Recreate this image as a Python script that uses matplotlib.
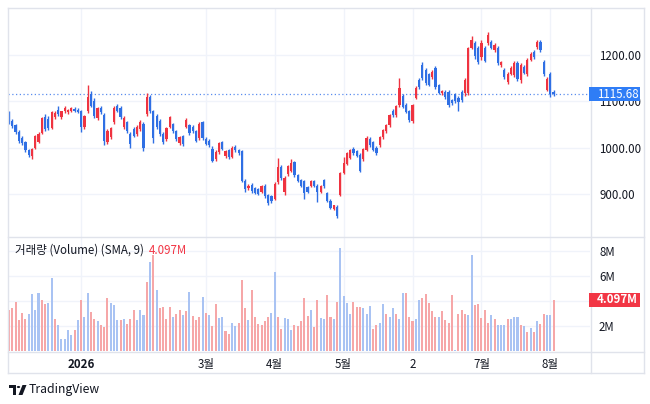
import matplotlib
matplotlib.use("Agg")
import matplotlib.pyplot as plt
import numpy as np
from matplotlib.patches import Rectangle, Polygon, Circle
from matplotlib.lines import Line2D

plt.rcParams['font.family'] = ['Noto Sans CJK KR', 'DejaVu Sans']

# ---------------- data ----------------
opens = [1072,1058,1048,1034,1020,1012,995,982,1000,1012,1032,1066,1062,1042,1066,1082,1066,1078,1076,1080,
         1084,1082,1078,1045,1078,1115,1100,1064,1086,1070,1012,1022,1055,1090,1086,1045,1055,1030,1040,1030,
         1040,1050,1072,1110,1078,1068,1058,1030,1018,1045,1050,1035,1010,1025,1045,1048,1045,1035,1020,1055,
         1018,1015,998,975,990,1012,982,995,980,1002,994,992,928,912,920,912,910,905,918,898,
         895,890,925,958,905,942,950,968,940,930,928,915,917,928,918,904,930,902,885,868,
         872,898,945,965,978,998,992,985,975,995,1018,1012,1000,1005,1022,1035,1048,1080,1070,1092,
         1112,1092,1078,1058,1108,1145,1178,1168,1158,1152,1172,1135,1118,1120,1120,1102,1115,1108,1120,1118,
         1118,1215,1225,1215,1195,1215,1225,1228,1210,1215,1178,1168,1142,1160,1157,1182,1145,1175,1158,1190,
         1206,1217,1228,1185,1125,1160,1120]
highs = [1078,1062,1052,1038,1025,1015,998,1000,1028,1034,1066,1072,1068,1080,1078,1090,1080,1090,1084,1088,
         1088,1086,1082,1070,1135,1122,1108,1088,1090,1075,1040,1045,1090,1094,1090,1068,1058,1034,1044,1048,
         1060,1055,1118,1114,1082,1072,1062,1034,1045,1068,1054,1038,1025,1028,1064,1052,1048,1038,1056,1058,
         1022,1018,1004,994,1012,1015,995,998,1003,1005,998,995,932,922,924,915,913,920,921,900,
         898,925,978,962,938,962,975,972,943,933,931,918,930,931,921,919,933,905,888,877,
         875,948,980,990,998,1001,995,988,1000,1024,1022,1015,1004,1025,1040,1051,1073,1084,1093,1150,
         1116,1096,1082,1095,1132,1150,1185,1172,1162,1167,1176,1138,1125,1124,1124,1105,1118,1111,1124,1150,
         1218,1240,1230,1219,1232,1219,1250,1232,1225,1219,1188,1172,1164,1176,1186,1186,1182,1179,1194,1207,
         1210,1232,1232,1189,1152,1164,1124]
lows = [1052,1043,1030,1010,1005,990,980,975,996,1010,1030,1036,1038,1040,1062,1068,1062,1074,1072,1076,
        1076,1074,1034,1040,1075,1088,1064,1060,1072,1005,1008,1018,1050,1076,1062,1040,1032,1000,1022,1026,
        1036,992,1068,1075,1010,1040,1026,1008,1014,1042,1032,1015,1006,1004,1042,1028,1032,1012,1016,1016,
        1005,1002,968,972,986,994,978,976,977,990,984,925,905,909,903,899,897,902,892,875,
        880,887,922,930,898,938,947,937,925,915,888,902,914,915,883,901,913,882,867,865,
        848,895,942,962,975,985,979,947,972,992,1002,992,985,1002,1018,1032,1045,1067,1066,1088,
        1085,1074,1055,1054,1104,1127,1146,1136,1132,1148,1126,1115,1114,1106,1088,1092,1096,1080,1099,1112,
        1114,1212,1192,1180,1190,1184,1221,1212,1206,1178,1174,1148,1138,1156,1152,1144,1140,1158,1154,1186,
        1192,1213,1206,1154,1122,1110,1112]
closes = [1058,1046,1033,1015,1010,995,985,998,1025,1030,1064,1040,1042,1077,1075,1072,1078,1086,1082,1085,
          1080,1076,1044,1068,1110,1090,1068,1085,1076,1015,1035,1042,1085,1080,1066,1064,1035,1008,1025,1045,
          1055,1000,1110,1078,1020,1045,1030,1012,1042,1065,1035,1018,1022,1008,1060,1032,1035,1015,1052,1020,
          1008,1005,972,990,1010,998,992,980,1000,994,988,928,910,918,906,902,900,918,895,880,
          885,922,958,935,935,960,966,940,928,918,903,905,928,918,905,916,916,885,870,875,
          852,945,967,988,995,988,982,950,998,1020,1005,995,988,1022,1037,1048,1070,1070,1090,1128,
          1088,1077,1060,1092,1128,1130,1150,1140,1136,1163,1130,1118,1122,1110,1092,1096,1100,1098,1103,1147,
          1215,1233,1198,1185,1225,1188,1243,1215,1222,1182,1185,1152,1160,1172,1182,1148,1178,1162,1190,1203,
          1196,1228,1210,1158,1148,1116,1115.68]
volumes_m = [3.27,3.46,3.94,2.47,3.08,2.60,3.00,4.53,3.27,4.61,
             4.08,3.73,3.81,5.87,2.60,2.12,0.94,0.99,1.66,1.26,
             1.66,2.47,4.08,2.73,4.61,3.14,2.60,2.39,2.12,1.93,
             4.21,3.81,3.67,2.47,2.47,2.60,2.20,2.60,3.27,2.47,
             3.27,2.87,5.55,7.16,7.69,4.88,3.46,3.54,2.60,3.54,
             2.73,3.00,3.27,2.87,3.22,4.75,2.82,2.47,2.73,4.34,
             3.08,2.87,2.01,3.75,2.65,2.73,1.58,1.39,2.28,2.01,
             2.28,5.68,3.46,2.47,4.88,2.73,2.20,2.06,2.39,2.73,
             3.08,6.30,2.73,1.80,2.65,2.55,1.66,2.06,2.01,2.39,
             4.26,2.82,3.27,1.93,4.08,2.65,2.55,4.48,2.73,2.55,
             3.94,8.28,4.40,3.81,3.00,3.94,3.54,3.54,3.46,3.00,
             3.62,1.74,2.06,2.28,3.73,3.00,2.73,3.46,3.00,2.60,
             4.61,4.61,2.73,2.39,2.60,4.08,4.21,4.53,3.81,3.19,
             2.73,2.73,3.19,2.47,2.28,4.48,0.05,3.00,3.27,3.00,
             2.87,7.69,3.67,3.73,2.65,3.27,2.28,2.92,2.60,2.06,
             2.06,2.06,2.60,2.60,2.73,2.73,2.06,2.01,1.53,1.85,
             1.53,2.39,2.20,3.00,2.92,2.92,4.097]
# volume bar colour as shown: p = red (pink), b = blue
volume_colour = list("ppppppbbbb" "ppbbpbbbbb" "pbpbbppbpp" "pbbbpbpppb" "bbpbpbpppp"
                     "bppbpbpppb" "pbppbbppbb" "pppbpppppp" "bbppbbbppp" "ppbppbbppb"
                     "pbbbbpppbb" "bppbbpbbpb" "bpppbbpppp" "pbppppbppp" "bbpppppbpb"
                     "bbpbbbpbpb" "pbppbbp")
tick_index = [22, 60, 81, 102, 123, 144, 165]
tick_labels = ["2026", "3월", "4월", "5월", "2", "7월", "8월"]
price_ticks = [900, 1000, 1100, 1200]
volume_ticks = [2, 4, 6, 8]
volume_tick_labels = ["2M", "", "6M", "8M"]   # 4M is hidden under the last-volume label
last_price = 1115.68
last_volume = 4.097

# ---------------- style ----------------
UP = '#ef3340'
DOWN = '#2f6fe4'
VUP = '#f6a7a8'
VDOWN = '#a9c3f3'
GRID = '#f0f3fa'
BORDER = '#e0e3eb'
TXT = '#131722'

W, H = 650, 404
fig = plt.figure(figsize=(6.5, 4.04), dpi=100)
fig.patch.set_facecolor('white')

def fx(px):
    return px / W

def fy(py):
    return 1 - py / H

left, right = 8, 590
ax = fig.add_axes([fx(left), fy(237), fx(right - left), (237 - 8) / H])
axv = fig.add_axes([fx(left), fy(351), fx(right - left), (351 - 237) / H])

n = len(closes)
idx = np.arange(n)
o = np.array(opens, float); c = np.array(closes, float)
h = np.array(highs, float); l = np.array(lows, float)
up = c >= o
cols = np.where(up, UP, DOWN)

for a in (ax, axv):
    a.set_xlim(-0.3, 177.1)
    for s in a.spines.values():
        s.set_visible(False)
    a.tick_params(length=0)
    for t in tick_index:
        a.axvline(t, color=GRID, lw=1, zorder=0)

ax.set_ylim(806.9, 1301.5)
for p in price_ticks:
    ax.axhline(p, color=GRID, lw=1, zorder=0)

# candles
ax.vlines(idx, l, h, colors=cols, lw=1, zorder=2)
body_bottom = np.minimum(o, c)
body_h = np.maximum(np.abs(c - o), 2.0)
ax.bar(idx, body_h, bottom=body_bottom, width=0.68, color=cols, linewidth=0, zorder=3)

# last price dotted line
ax.axhline(last_price, color='#5b8def', lw=0.9, ls=(0, (1, 2)), zorder=1)

ax.set_xticks([])
ax.yaxis.tick_right()
ax.set_yticks(price_ticks)
ax.set_yticklabels([f"{p:.2f}" for p in price_ticks], fontsize=8.3, color=TXT)
ax.tick_params(axis='y', pad=6.5)

# volume
vcols = [VUP if v == 'p' else VDOWN for v in volume_colour]
axv.set_ylim(0, 9.12)
for v in volume_ticks:
    axv.axhline(v, color=GRID, lw=1, zorder=0)
axv.bar(idx, volumes_m, width=0.62, color=vcols, linewidth=0, zorder=2)
axv.yaxis.tick_right()
axv.set_yticks(volume_ticks)
axv.set_yticklabels(volume_tick_labels, fontsize=8.3, color=TXT)
axv.tick_params(axis='y', pad=6.5)
axv.set_xticks(tick_index)
axv.set_xticklabels(tick_labels, fontsize=8.3, color=TXT)
axv.tick_params(axis='x', pad=5)
for lab in axv.get_xticklabels():
    if lab.get_text() == "2026":
        lab.set_fontweight('bold')

# frame lines
def hline(py, x0, x1):
    fig.add_artist(Line2D([fx(x0), fx(x1)], [fy(py), fy(py)], color=BORDER, lw=1, zorder=5))

def vline(px, y0, y1):
    fig.add_artist(Line2D([fx(px), fx(px)], [fy(y0), fy(y1)], color=BORDER, lw=1, zorder=5))

hline(237, 8, 644)
hline(351.5, 8, 644)
hline(373, 8, 644)
hline(8, 8, 644)
vline(8, 8, 373)
vline(590.5, 8, 373)
vline(644, 8, 373)

# price label boxes
fig.canvas.draw()
py_last = ax.transData.transform((0, last_price))[1]
box_h = 14
fig.add_artist(Rectangle((fx(589), (py_last - box_h / 2) / H), fx(51), box_h / H,
                         facecolor='#2f7df6', edgecolor='none', zorder=6))
fig.text(fx(597), py_last / H, f"{last_price:.2f}", color='white', fontsize=8.3,
         va='center', ha='left', zorder=7)

py_vol = axv.transData.transform((0, last_volume))[1]
fig.add_artist(Rectangle((fx(589), (py_vol - box_h / 2) / H), fx(51), box_h / H,
                         facecolor='#f23645', edgecolor='none', zorder=6))
fig.text(fx(597), py_vol / H, f"{last_volume:.3f}M", color='white', fontsize=8.3,
         va='center', ha='left', zorder=7, fontweight='bold')

# volume legend
t1 = fig.text(fx(15), fy(250), "거래량 (Volume) (SMA, 9)", fontsize=8.3, color=TXT,
              va='center', ha='left', zorder=7)
fig.canvas.draw()
bb = t1.get_window_extent()
fig.text((bb.x1 + 5) / W, fy(250), f"{last_volume:.3f}M", fontsize=8.3, color='#f23645',
         va='center', ha='left', zorder=7)

# TradingView logo
lx, ly = 9, 385
fig.add_artist(Rectangle((fx(lx), fy(ly + 3)), fx(7), 3 / H, facecolor=TXT, edgecolor='none'))
fig.add_artist(Rectangle((fx(lx + 3.5), fy(ly + 10)), fx(3.5), 10 / H, facecolor=TXT, edgecolor='none'))
fig.add_artist(Circle((fx(lx + 9.5), fy(ly + 2)), 1.7 / W, facecolor=TXT, edgecolor='none',
                      transform=fig.transFigure))
fig.add_artist(Polygon([(fx(lx + 13.5), fy(ly)), (fx(lx + 17.5), fy(ly)),
                        (fx(lx + 13.5), fy(ly + 10)), (fx(lx + 9.5), fy(ly + 10))],
                       closed=True, facecolor=TXT, edgecolor='none'))
fig.text(fx(29), fy(390), "TradingView", fontsize=8.8, color=TXT, va='center', ha='left')

fig.savefig("out.png", dpi=100, facecolor='white')
